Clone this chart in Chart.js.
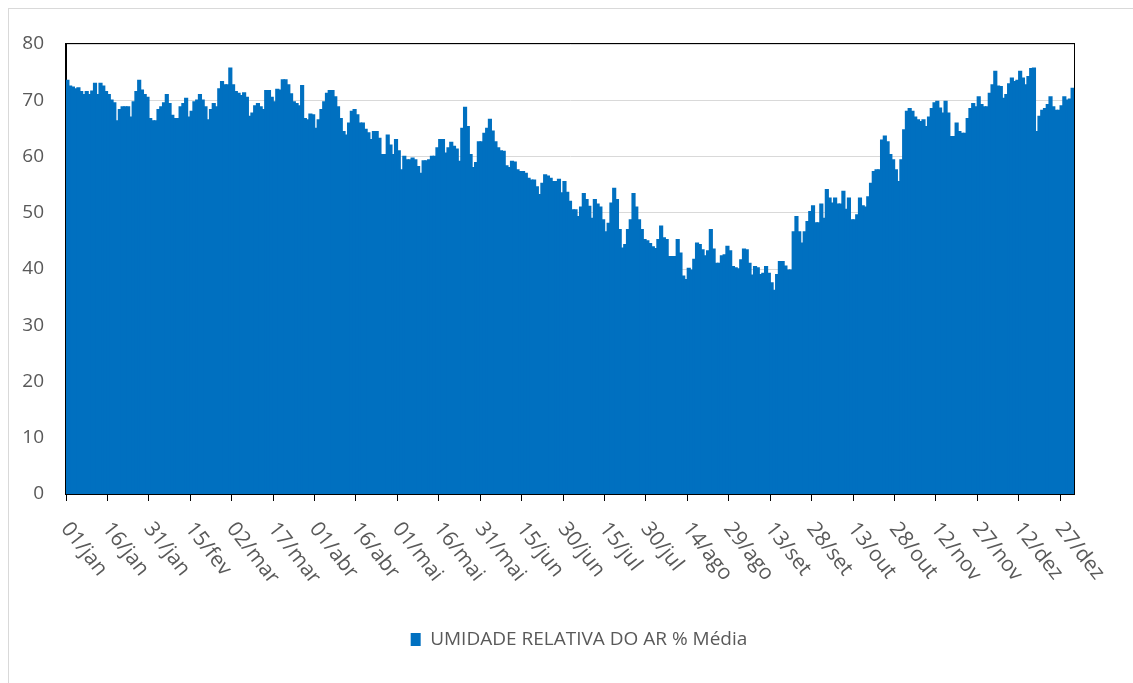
<!DOCTYPE html>
<html>
<head>
<meta charset="utf-8">
<script src="https://cdn.jsdelivr.net/npm/chart.js@4.4.1/dist/chart.umd.min.js"></script>
<style>
  html, body { margin: 0; padding: 0; background: #fff; }
  #wrap { position: relative; width: 1133px; height: 683px; }
  #frame { position: absolute; left: 8px; top: 8px; right: 0; bottom: 0; border-left: 1px solid #d9d9d9; border-top: 1px solid #d9d9d9; }
  canvas { position: absolute; left: 0; top: 0; }
</style>
</head>
<body>
<div id="wrap">
  <div id="frame"></div>
  <canvas id="chart" width="1133" height="683"></canvas>
</div>
<script>
// months and their lengths, used to build one category per day
const months = ['jan', 'fev', 'mar', 'abr', 'mai', 'jun', 'jul', 'ago', 'set', 'out', 'nov', 'dez'];
const monthDays = [31, 28, 31, 30, 31, 30, 31, 31, 30, 31, 30, 31];

// labels written under the axis (every 15 days)
const tickLabels = ['01/jan', '16/jan', '31/jan', '15/fev', '02/mar', '17/mar', '01/abr', '16/abr',
  '01/mai', '16/mai', '31/mai', '15/jun', '30/jun', '15/jul', '30/jul', '14/ago', '29/ago',
  '13/set', '28/set', '13/out', '28/out', '12/nov', '27/nov', '12/dez', '27/dez'];

const yTicks = [0, 10, 20, 30, 40, 50, 60, 70, 80];

// daily mean relative humidity (%), one row per 15 days
const umidade = [
  73.5, 72.5, 72.3, 72, 72.2, 71.5, 71, 71.5, 71, 71.6, 73, 71, 73, 72.5, 71.5,
  71, 70, 69.5, 66.3, 68.3, 68.8, 68.8, 68.8, 67, 69.7, 71.5, 73.5, 71.8, 71, 70.5,
  66.7, 66.3, 66.3, 68.3, 68.8, 69.5, 71, 69.4, 67.3, 66.7, 66.7, 68.8, 69.4, 70.3, 67,
  68, 69.7, 70, 71, 70, 68.8, 66.5, 68.3, 69.4, 68.8, 72, 73.3, 72.7, 72.7, 75.7,
  72.7, 71.5, 71.2, 70.8, 71.3, 70.5, 67.1, 67.7, 69, 69.4, 68.8, 68.3, 71.7, 71.7, 70.5,
  69.7, 71.9, 71.8, 73.6, 73.6, 72.7, 71.1, 69.7, 69.4, 69, 72.6, 66.7, 66.5, 67.5, 67.4,
  65, 66.5, 68.3, 69.7, 71.2, 71.7, 71.7, 70.6, 68.8, 66.7, 64.4, 63.8, 65.9, 68, 68.3,
  67.4, 65.9, 65.9, 64.8, 64.2, 63, 64.4, 64.4, 63.2, 60.3, 60.3, 63.8, 62, 60.3, 63,
  61, 57.6, 60, 59.4, 59.4, 59.7, 59.4, 58.2, 57, 59.2, 59.2, 59.4, 60, 60, 61.5,
  63, 63, 60.6, 61.5, 62.5, 61.8, 61.3, 59.1, 65, 68.7, 65.3, 60.3, 58, 58.9, 62.6,
  62.6, 64.1, 65, 66.6, 64.5, 62.6, 61.5, 61, 60.9, 58.3, 58, 59.1, 59, 57.6, 57.3,
  57.3, 57, 56.1, 55.8, 55.8, 54.6, 53.2, 55.2, 56.7, 56.5, 56.1, 55.5, 55.5, 55.9, 53.5,
  55.5, 53.6, 52, 50.5, 50.5, 49.3, 51, 53.4, 52.3, 51.1, 49, 52.3, 51.5, 51, 48.7,
  46.6, 48.1, 51.7, 54.3, 52.3, 47, 43.7, 44.3, 47, 48.7, 53.4, 51, 48.7, 47, 45.2,
  45, 44.5, 43.9, 43.6, 45.2, 47.6, 45.5, 45.2, 42.2, 42.2, 42.2, 45.2, 42.8, 38.7, 38.1,
  40.1, 39.8, 41.7, 44.6, 44.3, 43.4, 42.3, 43.2, 47, 43.5, 41, 41, 42.3, 42.5, 44,
  43.2, 40.4, 40.2, 40, 41.6, 43.5, 43.4, 41, 38.9, 40.4, 40.2, 39, 39.2, 40.4, 39.2,
  37.5, 36.2, 39, 41.3, 41.3, 40.5, 39.8, 39.8, 46.6, 49.3, 46.6, 44.6, 46.6, 48.4, 50.2,
  51.2, 48.2, 48.2, 51.5, 49, 54.1, 52.6, 51.7, 52.6, 51.5, 51.5, 53.8, 50.6, 52.6, 48.7,
  48.7, 49.6, 52.6, 51.2, 51, 52.8, 55.2, 57.3, 57.6, 57.6, 62.9, 63.6, 62.6, 60.3, 59.4,
  57.6, 55.5, 59.4, 64.7, 68, 68.5, 68, 67, 66.5, 66.2, 66.5, 65.3, 67, 68.5, 69.5,
  69.8, 68.6, 67.7, 69.8, 67.7, 63.5, 63.5, 65.9, 64.4, 64.1, 64.1, 66.7, 68.5, 69.4, 68.8,
  70.6, 69.2, 68.8, 68.8, 71.2, 72.7, 75.1, 72.5, 72.4, 70.3, 71, 72.9, 73.9, 73.3, 73.5,
  75.1, 73.9, 72.7, 74.2, 75.6, 75.7, 64.4, 67.1, 68.2, 68.5, 69.2, 70.6, 68.8, 68.2, 68.2,
  69, 70.6, 70, 70.2, 72.1
];

const dias = [];
months.forEach((m, i) => {
  for (let d = 1; d <= monthDays[i]; d++) {
    dias.push(String(d).padStart(2, '0') + '/' + m);
  }
});
const tickIndex = tickLabels.map(l => dias.indexOf(l));

const textColor = '#595959';
const fontFamily = '"Open Sans", "DejaVu Sans", sans-serif';

// plot frame, rotated day labels, legend nudged to the reference position
const extras = {
  id: 'extras',
  afterLayout(chart) {
    chart.legend.left += 42;
    chart.legend.right += 42;
  },
  afterDatasetsDraw(chart) {
    const { ctx, chartArea: a } = chart;
    ctx.save();
    ctx.strokeStyle = '#000';
    ctx.lineWidth = 1;
    ctx.strokeRect(a.left - 0.5, a.top - 0.5, a.right - a.left + 1, a.bottom - a.top + 1);
    ctx.restore();
  },
  afterDraw(chart) {
    const ctx = chart.ctx;
    const x = chart.scales.x;
    const step = (x.right - x.left) / dias.length;
    ctx.save();
    ctx.font = '21px ' + fontFamily;
    ctx.fillStyle = textColor;
    ctx.textAlign = 'left';
    ctx.textBaseline = 'middle';
    tickIndex.forEach((idx, k) => {
      const px = x.getPixelForValue(idx) - step / 2;
      ctx.save();
      ctx.translate(px - 1, x.top + 31);
      ctx.rotate(52 * Math.PI / 180);
      ctx.fillText(tickLabels[k], 0, 0);
      ctx.restore();
    });
    ctx.restore();
  }
};

new Chart(document.getElementById('chart'), {
  type: 'bar',
  data: {
    labels: dias,
    datasets: [{
      label: 'UMIDADE RELATIVA DO AR % Média',
      data: umidade,
      backgroundColor: '#0070c0',
      borderWidth: 0,
      inflateAmount: 0.7,
      barPercentage: 1,
      categoryPercentage: 1
    }]
  },
  options: {
    responsive: false,
    animation: false,
    layout: { padding: { top: 44, right: 59, left: 0, bottom: 24 } },
    plugins: {
      tooltip: { enabled: false },
      legend: {
        position: 'bottom',
        labels: {
          boxWidth: 10,
          boxHeight: 13,
          color: textColor,
          font: { family: fontFamily, size: 19 }
        }
      }
    },
    scales: {
      x: {
        offset: true,
        afterFit: s => { s.height = 126; },
        ticks: { display: false, autoSkip: false },
        grid: {
          offset: true,
          drawOnChartArea: false,
          drawTicks: true,
          tickLength: 7,
          tickColor: c => (tickIndex.includes(c.index) ? '#000' : 'rgba(0,0,0,0)')
        },
        border: { display: true, color: '#000', width: 1 }
      },
      y: {
        min: yTicks[0],
        max: yTicks[yTicks.length - 1],
        afterFit: s => { s.width = 66; },
        afterBuildTicks: s => { s.ticks = yTicks.map(v => ({ value: v })); },
        ticks: {
          color: textColor,
          padding: 22,
          font: { family: fontFamily, size: 19 }
        },
        grid: { color: '#d9d9d9', drawTicks: false },
        border: { display: true, color: '#000', width: 1 }
      }
    }
  },
  plugins: [extras]
});
</script>
</body>
</html>
